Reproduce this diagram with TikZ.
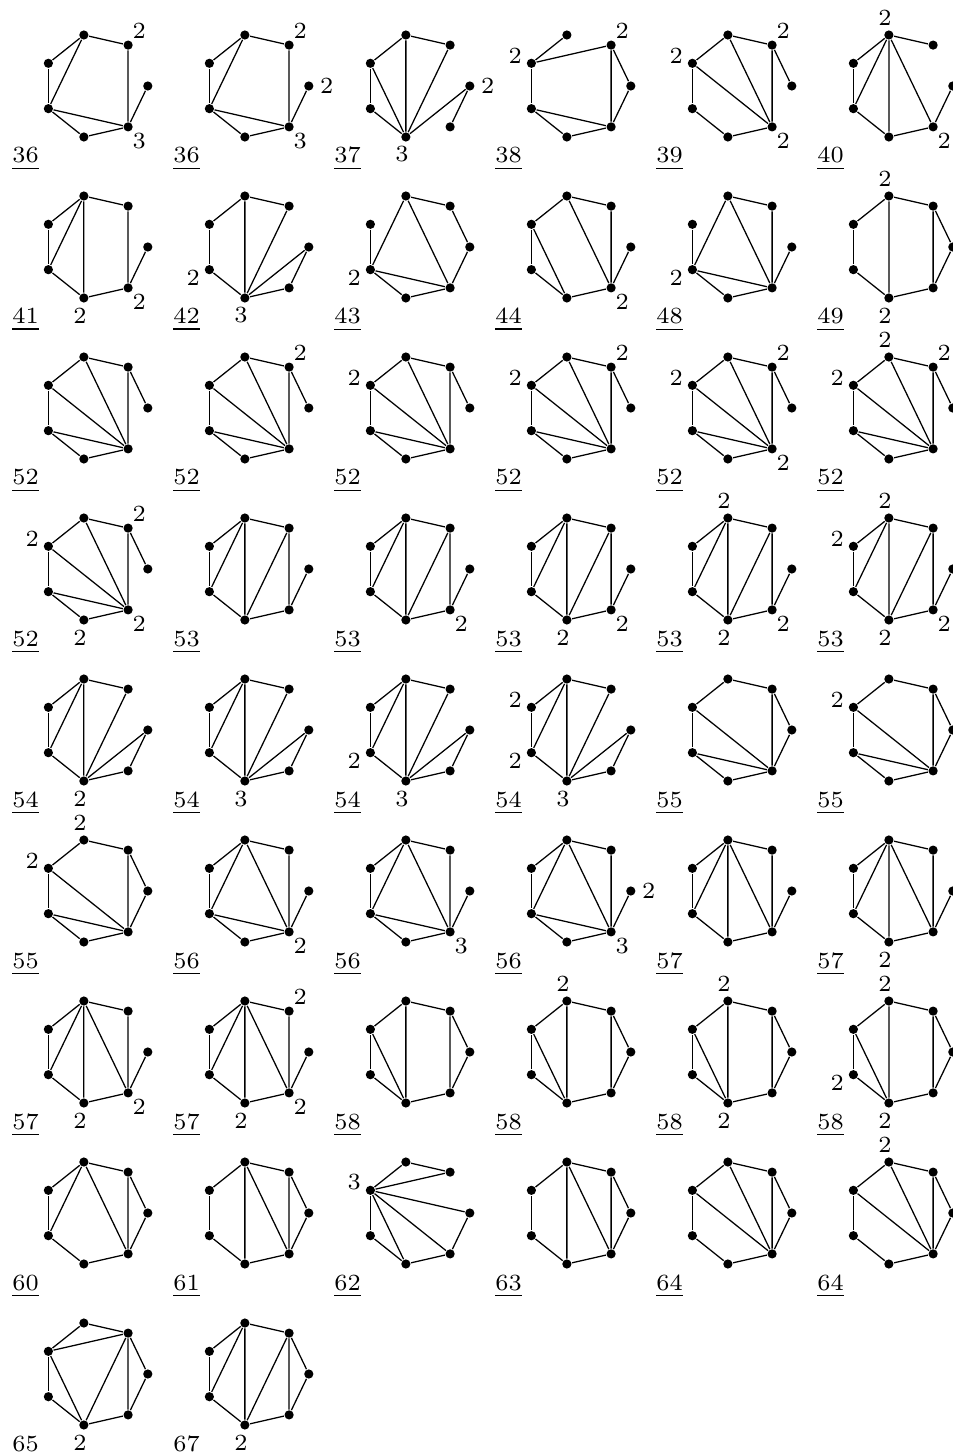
\documentclass[tikz,border=0pt]{standalone}
\usepackage{fontspec}
\usetikzlibrary{calc}
\tikzset{
  vtx/.style={circle,fill=black,draw=none,inner sep=0pt,minimum size=0.092cm},
  gline/.style={line width=0.36pt,black},
  vlab/.style={inner sep=0pt,font=\fontsize{6.6}{8}\selectfont},
  num/.style={inner sep=0pt,anchor=base,font=\fontsize{6.6}{8}\selectfont}
}
\def\edgA{2/1,1/6,0/6,2/3,3/4,2/4,4/5,5/6,4/6}
\def\edgB{2/1,2/3,3/4,4/5,2/5,3/5,1/5,5/0,0/6}
\def\edgC{3/2,3/1,1/6,1/0,0/6,3/4,4/5,5/6,4/6}
\def\edgD{2/1,1/6,1/0,2/3,3/4,4/5,5/6,3/6,2/6}
\def\edgE{2/1,2/3,3/4,2/4,4/5,2/5,2/6,5/6,6/0}
\def\edgF{2/1,1/6,6/0,2/3,3/4,2/4,2/5,4/5,5/6}
\def\edgG{2/1,2/3,3/4,4/5,2/5,1/5,5/0,0/6,5/6}
\def\edgH{3/4,4/2,2/1,1/0,0/6,2/6,4/6,4/5,5/6}
\def\edgI{2/1,1/6,6/0,2/3,3/4,3/5,4/5,5/6,2/6}
\def\edgJ{3/4,4/2,2/1,1/6,2/6,4/6,4/5,5/6,6/0}
\def\edgK{2/3,3/4,4/5,2/5,2/1,1/6,1/0,0/6,5/6}
\def\edgL{2/1,1/6,1/0,2/3,3/4,4/5,5/6,3/6,2/6,4/6}
\def\edgM{2/1,2/3,3/4,2/4,2/5,4/5,1/5,1/6,5/6,6/0}
\def\edgN{2/1,2/3,3/4,2/4,2/5,4/5,1/5,5/0,0/6,5/6}
\def\edgO{2/1,1/6,1/0,0/6,2/3,3/4,4/5,5/6,3/6,4/6}
\def\edgP{2/1,1/6,6/0,2/3,3/4,2/4,2/6,4/5,5/6,4/6}
\def\edgQ{2/1,1/6,6/0,2/3,3/4,2/4,2/5,2/6,4/5,5/6}
\def\edgR{2/1,1/0,0/6,6/5,5/4,4/3,3/2,2/5,3/5,1/6}
\def\edgS{2/1,1/0,0/6,6/5,5/4,4/3,3/2,2/4,2/6,1/6}
\def\edgT{2/1,1/0,0/6,6/5,5/4,4/3,3/2,2/5,2/6,1/6}
\def\edgU{3/2,2/1,3/1,3/0,0/6,3/6,6/5,3/5,5/4,3/4}
\def\edgV{2/1,1/0,0/6,6/5,5/4,4/3,3/2,2/5,2/6,1/6}
\def\edgW{2/1,1/0,0/6,6/5,5/4,4/3,3/2,3/6,2/6,1/6}
\def\edgX{3/2,3/1,2/1,3/4,4/5,3/5,1/5,1/6,1/0,0/6,5/6}
\def\edgY{2/1,1/0,0/6,6/5,5/4,4/3,3/2,2/4,2/5,1/5,1/6}
\newcommand\drawgraph[5]{%
  \pgfmathsetmacro\gcx{0.955+1.61*(#1-1)}%
  \pgfmathsetmacro\gcy{-(0.86+1.61*(#2-1))}%
  \begin{scope}[shift={(\gcx,\gcy)}]
    \foreach \k in {0,...,6} \node[vtx] (g#2#1v\k) at ({\k*360/7}:0.523) {};
    \foreach \a/\b in #3 \draw[gline] (g#2#1v\a) -- (g#2#1v\b);
    \def\tmplabs{#4}%
    \ifx\tmplabs\empty\else
      \foreach \k/\t in {#4} \node[vlab] (g#2#1l\k) at ($(g#2#1v\k)+({\k*360/7}:0.18)$) {\t};
    \fi
    \node[num] (g#2#1n) at (-0.70,-0.77) {\underline{#5}};
  \end{scope}%
}
\begin{document}
\begin{tikzpicture}
\useasboundingbox (0,0) rectangle (9.52,-14.56);
% row 1
\drawgraph{1}{1}{\edgA}{1/2,6/3}{36}
\drawgraph{2}{1}{\edgA}{1/2,0/2,6/3}{36}
\drawgraph{3}{1}{\edgB}{5/3,0/2}{37}
\drawgraph{4}{1}{\edgC}{3/2,1/2}{38}
\drawgraph{5}{1}{\edgD}{3/2,1/2,6/2}{39}
\drawgraph{6}{1}{\edgE}{2/2,6/2}{40}
% row 2
\drawgraph{1}{2}{\edgF}{5/2,6/2}{41}
\drawgraph{2}{2}{\edgG}{4/2,5/3}{42}
\drawgraph{3}{2}{\edgH}{4/2}{43}
\drawgraph{4}{2}{\edgI}{6/2}{44}
\drawgraph{5}{2}{\edgJ}{4/2}{48}
\drawgraph{6}{2}{\edgK}{2/2,5/2}{49}
% row 3
\drawgraph{1}{3}{\edgL}{}{52}
\drawgraph{2}{3}{\edgL}{1/2}{52}
\drawgraph{3}{3}{\edgL}{3/2}{52}
\drawgraph{4}{3}{\edgL}{3/2,1/2}{52}
\drawgraph{5}{3}{\edgL}{3/2,1/2,6/2}{52}
\drawgraph{6}{3}{\edgL}{2/2,1/2,3/2}{52}
% row 4
\drawgraph{1}{4}{\edgL}{3/2,1/2,5/2,6/2}{52}
\drawgraph{2}{4}{\edgM}{}{53}
\drawgraph{3}{4}{\edgM}{6/2}{53}
\drawgraph{4}{4}{\edgM}{5/2,6/2}{53}
\drawgraph{5}{4}{\edgM}{2/2,5/2,6/2}{53}
\drawgraph{6}{4}{\edgM}{2/2,3/2,5/2,6/2}{53}
% row 5
\drawgraph{1}{5}{\edgN}{5/2}{54}
\drawgraph{2}{5}{\edgN}{5/3}{54}
\drawgraph{3}{5}{\edgN}{4/2,5/3}{54}
\drawgraph{4}{5}{\edgN}{3/2,4/2,5/3}{54}
\drawgraph{5}{5}{\edgO}{}{55}
\drawgraph{6}{5}{\edgO}{3/2}{55}
% row 6
\drawgraph{1}{6}{\edgO}{2/2,3/2}{55}
\drawgraph{2}{6}{\edgP}{6/2}{56}
\drawgraph{3}{6}{\edgP}{6/3}{56}
\drawgraph{4}{6}{\edgP}{0/2,6/3}{56}
\drawgraph{5}{6}{\edgQ}{}{57}
\drawgraph{6}{6}{\edgQ}{5/2}{57}
% row 7
\drawgraph{1}{7}{\edgQ}{5/2,6/2}{57}
\drawgraph{2}{7}{\edgQ}{1/2,5/2,6/2}{57}
\drawgraph{3}{7}{\edgR}{}{58}
\drawgraph{4}{7}{\edgR}{2/2}{58}
\drawgraph{5}{7}{\edgR}{2/2,5/2}{58}
\drawgraph{6}{7}{\edgR}{2/2,4/2,5/2}{58}
% row 8
\drawgraph{1}{8}{\edgS}{}{60}
\drawgraph{2}{8}{\edgT}{}{61}
\drawgraph{3}{8}{\edgU}{3/3}{62}
\drawgraph{4}{8}{\edgV}{}{63}
\drawgraph{5}{8}{\edgW}{}{64}
\drawgraph{6}{8}{\edgW}{2/2}{64}
% row 9
\drawgraph{1}{9}{\edgX}{5/2}{65}
\drawgraph{2}{9}{\edgY}{5/2}{67}
\end{tikzpicture}
\end{document}
